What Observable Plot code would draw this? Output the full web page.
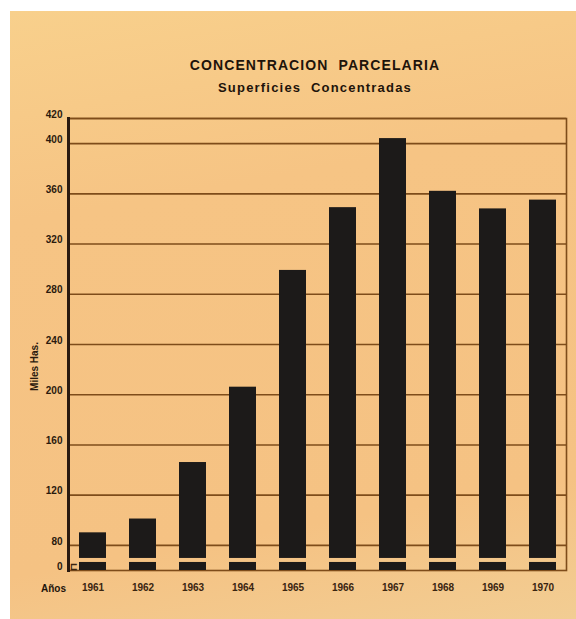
<!DOCTYPE html>
<html><head><meta charset="utf-8">
<script src="https://cdn.jsdelivr.net/npm/d3@7"></script>
<script src="https://cdn.jsdelivr.net/npm/@observablehq/plot@0.6"></script>
<style>
body{margin:0;background:#fff;}
#wrap{position:relative;width:576px;height:619px;overflow:hidden;}
#paper{position:absolute;left:10px;top:11px;width:566px;height:608px;
 background:linear-gradient(170deg,#f8d08c 0%,#f6c484 30%,#f5c283 80%,#f2cd93 100%);}
#title,#subtitle{position:absolute;left:115px;width:400px;text-align:center;white-space:pre;
 font-family:"Liberation Sans",Arial,sans-serif;font-weight:bold;color:#1e140b;z-index:2;}
#title{top:57px;font-size:14px;line-height:16px;letter-spacing:1.1px;}
#subtitle{top:80px;font-size:13px;line-height:15px;letter-spacing:1.2px;}
#chart{position:absolute;left:0;top:0;z-index:1;}
#chart text.ylab{letter-spacing:1.2px;}
</style></head>
<body>
<div id="wrap">
 <div id="paper"></div>
 <div id="title">CONCENTRACION  PARCELARIA</div>
 <div id="subtitle">Superficies  Concentradas</div>
 <div id="chart"></div>
</div>
<script>
const years = ["1961","1962","1963","1964","1965","1966","1967","1968","1969","1970"];
const values = [90, 101, 146, 206, 299, 349, 404, 362, 348, 355];
const yTicks = [0, 80, 120, 160, 200, 240, 280, 320, 360, 400, 420];
const data = years.map((y, i) => ({year: y, value: values[i]}));

// broken axis: the stretch 0..80 is squeezed; the frame bottom stands for 0
const AXIS_BOTTOM = 60;               // scale value drawn at the frame bottom (labelled "0")
const pos = d => d === 0 ? AXIS_BOTTOM : d;
const tickPos = yTicks.map(pos);

const ink = "#1c1a19";
const brown = "#7e4c1a";
const plot = Plot.plot({
  width: 576, height: 619,
  marginTop: 118, marginBottom: 49, marginLeft: 68, marginRight: 10,
  style: {background: "transparent", fontFamily: "'Liberation Sans', Arial, sans-serif", overflow: "visible"},
  x: {domain: years, paddingInner: 0.47, paddingOuter: 0.195, label: null},
  y: {domain: [AXIS_BOTTOM, 420], label: null},
  marks: [
    Plot.ruleY(yTicks.filter(d => d >= 80), {stroke: brown, strokeWidth: 1.6}),
    Plot.frame({stroke: brown, strokeWidth: 1.6}),
    Plot.barY(data, {x: "year", y1: AXIS_BOTTOM, y2: AXIS_BOTTOM + 6.4, fill: ink}),
    Plot.barY(data, {x: "year", y1: AXIS_BOTTOM + 9.6, y2: "value", fill: ink}),
    Plot.axisY({ticks: tickPos, tickFormat: d => d === AXIS_BOTTOM ? "0" : String(d), tickSize: 0, tickPadding: 6, dy: -4,
      fontWeight: "bold", fontSize: 10, fill: "#2a1a0e", label: null}),
    Plot.axisX({tickSize: 0, tickPadding: 13, fontWeight: "bold", fontSize: 10, fill: "#3a2410", label: null}),
    Plot.frame({anchor: "left", stroke: "#2a1a10", strokeWidth: 3}),
    Plot.text(["⊏"], {text: d => d, frameAnchor: "bottom-left", textAnchor: "start", lineAnchor: "bottom",
      dx: 1, dy: -1, fontWeight: "bold", fontSize: 9, fill: "#3a2410"}),
    Plot.text(["Miles Has."], {text: d => d, frameAnchor: "left", textAnchor: "middle", lineAnchor: "middle",
      rotate: -90, dx: -34, dy: 22, fontWeight: "bold", fontSize: 10, fill: "#2a1a0e", className: "ylab"}),
    Plot.text(["Años"], {text: d => d, frameAnchor: "bottom-left", textAnchor: "middle", lineAnchor: "middle",
      dx: -15, dy: 18, fontWeight: "bold", fontSize: 10, fill: "#1e140b"})
  ]
});
document.getElementById("chart").appendChild(plot);
</script>
</body></html>
